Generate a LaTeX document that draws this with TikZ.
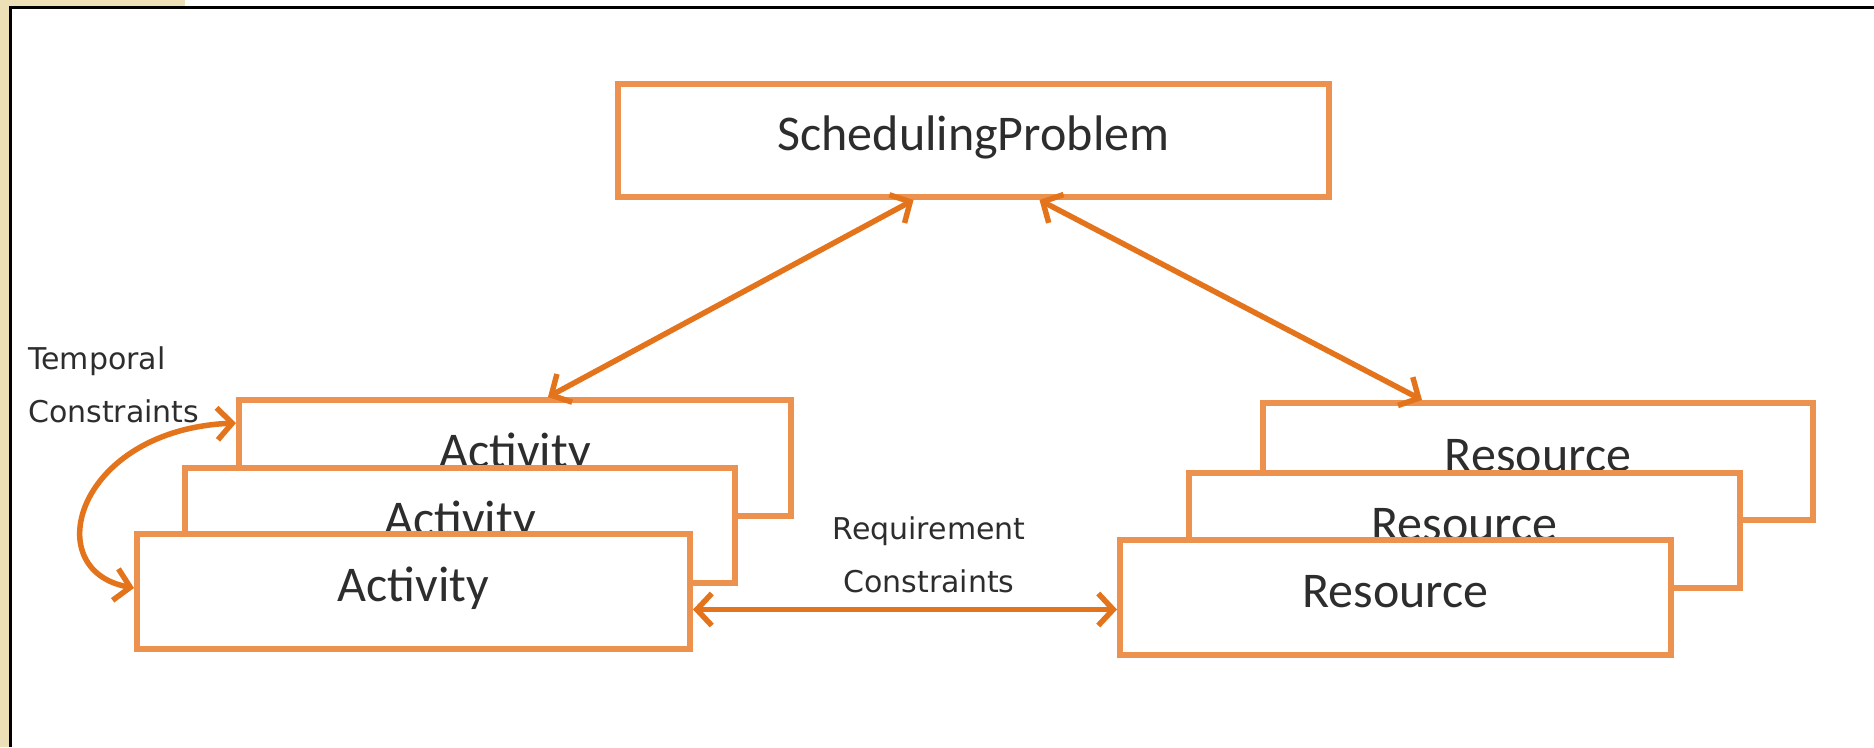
\documentclass[tikz,border=0pt]{standalone}
\usepackage{fontspec}
\setmainfont{Carlito}
\newfontfamily\lblfont{DejaVu Sans}
\usetikzlibrary{arrows.meta}
\definecolor{beige}{RGB}{238,224,182}
\definecolor{boxorange}{RGB}{236,146,78}
\definecolor{arroworange}{RGB}{228,116,28}
\definecolor{txtgray}{RGB}{45,45,45}
\tikzset{
  box/.style={draw=boxorange, line width=6pt, fill=white, inner sep=0pt,
    text height=36pt, text depth=17pt,
    font=\fontsize{50}{60}\selectfont, text=txtgray},
  arr/.style={draw=arroworange, line width=5.5pt,
    {Straight Barb[length=15pt,width=32pt]}-{Straight Barb[length=15pt,width=32pt]}},
  lbl/.style={font=\lblfont\fontsize{30}{53}\selectfont, text=txtgray, inner sep=0pt}
}
\begin{document}
\begin{tikzpicture}[x=1pt,y=-1pt]
\useasboundingbox (0,0) rectangle (1874,747);
\fill[beige] (0,0) rectangle (9,747);
\fill[beige] (0,0) rectangle (185,6);
\draw[black, line width=3pt] (10.5,747) -- (10.5,7.5) -- (1874,7.5);

\node[box, minimum width=711pt, minimum height=113pt] (sp) at (973.5,140.5) {SchedulingProblem};

\node[box, minimum width=552pt, minimum height=116pt] (a1) at (515,458) {Activity};
\node[box, minimum width=550pt, minimum height=115pt] (a2) at (460,525.5) {Activity};
\node[box, minimum width=553pt, minimum height=115pt] (a3) at (413.5,591.5) {Activity};

\node[box, minimum width=550pt, minimum height=117pt] (r1) at (1538,461.5) {Resource};
\node[box, minimum width=551pt, minimum height=115pt] (r2) at (1464.5,530.5) {Resource};
\node[box, minimum width=551pt, minimum height=115pt] (r3) at (1395.5,597.5) {Resource};

\draw[arr] ([xshift=-60pt]sp.south) -- ([xshift=33pt]a1.north);
\draw[arr] ([xshift=66pt]sp.south) -- ([xshift=-116pt]r1.north);
\draw[arr] ([yshift=-18pt]a3.east) -- ([yshift=-12pt]r3.west);
\draw[arr] ([yshift=35pt]a1.west) .. controls +(-159,7) and +(-97,-18) .. ([yshift=3.5pt]a3.west);

\node[lbl, anchor=west, align=left] (tc) at (28,385) {Temporal\\Constraints};
\node[lbl, align=center] (rc) at (929,555) {Requirement\\Constraints};
\end{tikzpicture}
\end{document}
